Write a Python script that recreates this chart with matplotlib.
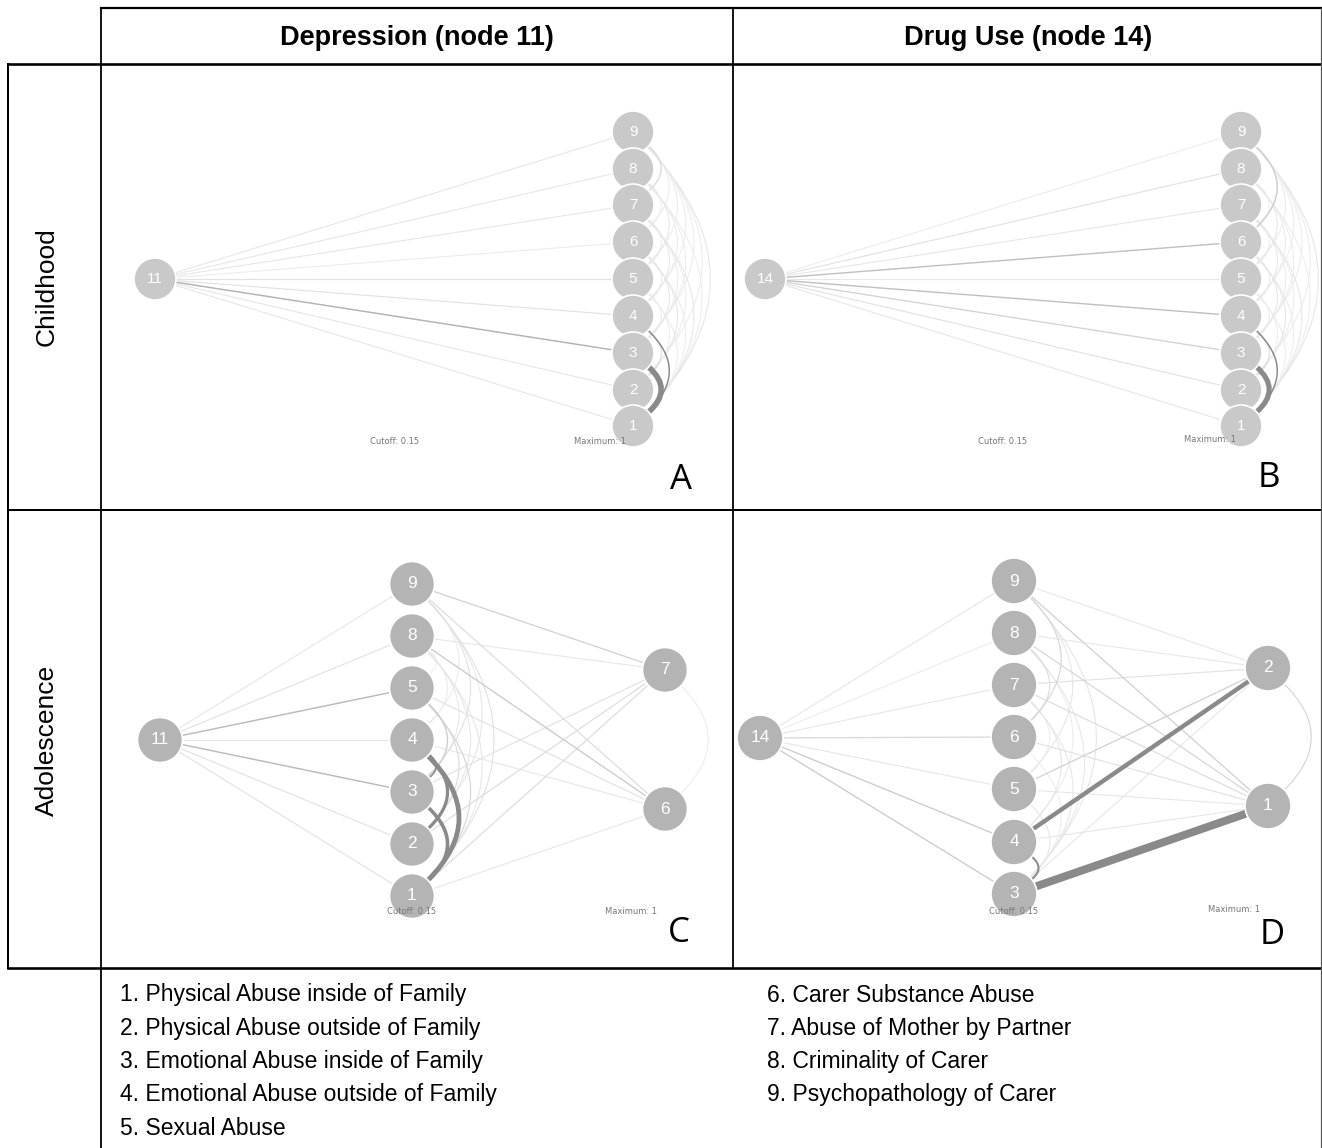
import numpy as np
import matplotlib
matplotlib.use("Agg")
import matplotlib.pyplot as plt
from matplotlib.patches import Circle, PathPatch
from matplotlib.path import Path

W, H = 1322, 1148

col_titles = ["Depression (node 11)", "Drug Use (node 14)"]
row_titles = ["Childhood", "Adolescence"]
panel_letters = ["A", "B", "C", "D"]
legend_left = ["1. Physical Abuse inside of Family",
               "2. Physical Abuse outside of Family",
               "3. Emotional Abuse inside of Family",
               "4. Emotional Abuse outside of Family",
               "5. Sexual Abuse"]
legend_right = ["6. Carer Substance Abuse",
                "7. Abuse of Mother by Partner",
                "8. Criminality of Carer",
                "9. Psychopathology of Carer"]
cutoff = 0.15
maximum = 1

# node layouts (pixel positions of the drawn network)
layout_a = {11: (155, 279), 9: (633, 132), 8: (633, 169), 7: (633, 205), 6: (633, 242),
            5: (633, 279), 4: (633, 316), 3: (633, 353), 2: (633, 390), 1: (633, 426)}
layout_b = {14: (765, 279), 9: (1241, 132), 8: (1241, 169), 7: (1241, 205), 6: (1241, 242),
            5: (1241, 279), 4: (1241, 316), 3: (1241, 353), 2: (1241, 390), 1: (1241, 426)}
layout_c = {11: (160, 740), 9: (412, 584), 8: (412, 636), 5: (412, 688), 4: (412, 740),
            3: (412, 792), 2: (412, 844), 1: (412, 896), 7: (665, 670), 6: (665, 809)}
layout_d = {14: (760, 738), 9: (1014, 581), 8: (1014, 633), 7: (1014, 685), 6: (1014, 737),
            5: (1014, 789), 4: (1014, 842), 3: (1014, 894), 2: (1268, 668), 1: (1268, 806)}

# edge weights (from, to, weight)
edges_a = [(11, 1, .03), (11, 2, .03), (11, 3, .12), (11, 4, .04), (11, 5, .04),
           (11, 6, .02), (11, 7, .03), (11, 8, .03), (11, 9, .03),
           (1, 5, .02), (1, 6, .02), (1, 7, .03), (1, 8, .02), (1, 9, .03),
           (2, 5, .02), (2, 6, .03), (2, 7, .02), (2, 9, .02), (3, 5, .02), (3, 6, .03),
           (3, 7, .02), (3, 8, .02), (3, 9, .02), (4, 6, .02), (4, 7, .03), (4, 8, .02),
           (4, 9, .02), (5, 7, .02), (5, 8, .03), (5, 9, .02), (6, 8, .02), (6, 9, .02),
           (9, 7, .06), (2, 4, .05), (1, 4, .16), (1, 3, .70)]
edges_b = [(14, 1, .03), (14, 2, .04), (14, 3, .07), (14, 4, .10), (14, 5, .03),
           (14, 6, .10), (14, 7, .03), (14, 8, .04), (14, 9, .02),
           (1, 5, .02), (1, 6, .02), (1, 7, .03), (1, 8, .02), (1, 9, .03),
           (2, 5, .02), (2, 6, .03), (2, 7, .02), (2, 9, .02), (3, 5, .02), (3, 6, .03),
           (3, 7, .02), (3, 8, .02), (3, 9, .02), (4, 6, .02), (4, 7, .03), (4, 8, .02),
           (4, 9, .02), (5, 7, .02), (5, 8, .03), (5, 9, .02), (6, 8, .02), (6, 9, .02),
           (9, 6, .08), (2, 4, .05), (1, 4, .16), (1, 3, .65)]
edges_c = [(11, 9, .03), (11, 8, .04), (11, 5, .11), (11, 4, .03), (11, 3, .11),
           (11, 2, .04), (11, 1, .04),
           (9, 7, .07), (9, 6, .05), (8, 7, .03), (8, 6, .08), (5, 6, .04), (4, 6, .03),
           (3, 7, .04), (2, 7, .05), (1, 7, .05), (1, 6, .03), (7, 6, .02),
           (9, 1, .04), (9, 2, .03), (9, 3, .04), (8, 1, .03), (8, 2, .03), (8, 3, .03),
           (5, 1, .06), (5, 2, .05), (5, 3, .08), (9, 4, .02), (8, 4, .02), (8, 5, .02),
           (4, 3, .20), (4, 2, .40), (3, 1, .45), (4, 1, .60)]
edges_d = [(14, 9, .03), (14, 8, .02), (14, 7, .03), (14, 6, .06), (14, 5, .03),
           (14, 4, .08), (14, 3, .08),
           (5, 2, .07), (9, 1, .07), (8, 1, .06), (7, 1, .05), (6, 1, .04), (5, 1, .03),
           (4, 1, .03), (9, 2, .03), (8, 2, .03), (7, 2, .04), (3, 2, .03), (2, 1, .06),
           (9, 6, .06), (8, 6, .05), (9, 5, .03), (9, 3, .03), (8, 3, .03), (7, 3, .03),
           (8, 4, .02), (7, 4, .03), (6, 3, .02), (5, 3, .03), (7, 5, .02),
           (4, 3, .25), (4, 2, .55), (3, 1, 1.0)]

panels = [(layout_a, edges_a, 21, "#c9c9c9", 11, (395, 441), (600, 441), (681, 480)),
          (layout_b, edges_b, 21, "#c9c9c9", 11, (1003, 441), (1210, 440), (1269, 478)),
          (layout_c, edges_c, 22.5, "#b4b4b4", 12.5, (412, 911), (631, 911), (679, 933)),
          (layout_d, edges_d, 23, "#b4b4b4", 12.5, (1014, 911), (1234, 910), (1272, 935))]

PX = 0.72  # pixels -> points

fig = plt.figure(figsize=(W / 100, H / 100), dpi=100)
ax = fig.add_axes([0, 0, 1, 1])
ax.set_xlim(0, W)
ax.set_ylim(H, 0)
ax.axis("off")


def edge_style(w):
    if w >= cutoff:
        return "#8a8a8a", max(8 * w, 1.5)
    g = 0.955 - (w / cutoff) ** 1.2 * 0.33
    return (g, g, g), 1.0 + w / cutoff * 0.6


for layout, edges, r, ncol, fs, cpos, mpos, lpos in panels:
    for a, b, w in sorted(edges, key=lambda e: e[2]):
        p1 = np.array(layout[a], float)
        p2 = np.array(layout[b], float)
        c, lw = edge_style(w)
        if abs(p1[0] - p2[0]) < 1:
            d = abs(p2[1] - p1[1])
            ctrl = (p1 + p2) / 2 + np.array([0.45 * d + 8, 0])
            s = p1 + r * (ctrl - p1) / np.linalg.norm(ctrl - p1)
            e = p2 + r * (ctrl - p2) / np.linalg.norm(ctrl - p2)
            path = Path([s, ctrl, e], [Path.MOVETO, Path.CURVE3, Path.CURVE3])
            ax.add_patch(PathPatch(path, fc="none", ec=c, lw=lw * PX, capstyle="butt", zorder=2))
        else:
            ax.plot([p1[0], p2[0]], [p1[1], p2[1]], color=c, lw=lw * PX,
                    solid_capstyle="butt", zorder=2)
    for n, (x, y) in layout.items():
        ax.add_patch(Circle((x, y), r, fc=ncol, ec="white", lw=1.2, zorder=3))
        ax.text(x, y, str(n), color="white", fontsize=fs, ha="center", va="center",
                family=["Liberation Sans", "DejaVu Sans"], zorder=4)
    ax.text(cpos[0], cpos[1], "Cutoff: %.2f" % cutoff, fontsize=6, color="#777777",
            ha="center", va="center", zorder=5)
    ax.text(mpos[0], mpos[1], "Maximum: %d" % maximum, fontsize=6, color="#777777",
            ha="center", va="center", zorder=5)

for (layout, edges, r, ncol, fs, cpos, mpos, lpos), letter in zip(panels, panel_letters):
    ax.text(lpos[0], lpos[1], letter, fontsize=25, ha="center", va="center",
            family=["Open Sans", "DejaVu Sans"])

# table frame
k = "black"
ax.plot([101, 1321], [8, 8], color=k, lw=2.2 * PX)
ax.plot([8, 1322], [64, 64], color=k, lw=2.6 * PX)
ax.plot([8, 1322], [510, 510], color=k, lw=2.0 * PX)
ax.plot([8, 1322], [968, 968], color=k, lw=2.6 * PX)
ax.plot([8, 8], [64, 968], color=k, lw=2.0 * PX)
ax.plot([101, 101], [8, H], color=k, lw=1.8 * PX)
ax.plot([733, 733], [8, 968], color=k, lw=1.8 * PX)
ax.plot([1321, 1321], [8, H], color="#555555", lw=1.2 * PX)

narrow = ["Liberation Sans Narrow", "Liberation Sans", "DejaVu Sans"]
for x, t in zip([417, 1028], col_titles):
    ax.text(x, 38, t, fontsize=19.5, fontweight="bold", ha="center", va="center", family=narrow)
for y, t in zip([287, 740], row_titles):
    ax.text(47, y, t, fontsize=19, rotation=90, ha="center", va="center",
            family=["Liberation Sans", "DejaVu Sans"])

for i, t in enumerate(legend_left):
    ax.text(120, 995 + i * 33.3, t, fontsize=16.5, ha="left", va="center", family=narrow)
for i, t in enumerate(legend_right):
    ax.text(767, 995 + i * 33.3, t, fontsize=16.5, ha="left", va="center", family=narrow)

fig.savefig("out.png", dpi=100, facecolor="white")
